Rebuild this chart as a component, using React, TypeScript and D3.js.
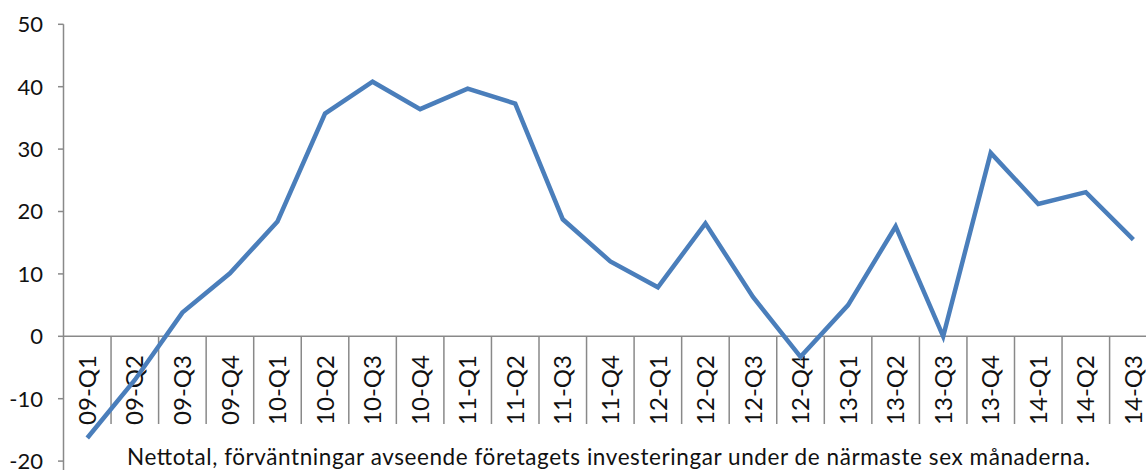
import React from 'react'
import * as d3 from 'd3'

const quarters = [
  '09-Q1', '09-Q2', '09-Q3', '09-Q4',
  '10-Q1', '10-Q2', '10-Q3', '10-Q4',
  '11-Q1', '11-Q2', '11-Q3', '11-Q4',
  '12-Q1', '12-Q2', '12-Q3', '12-Q4',
  '13-Q1', '13-Q2', '13-Q3', '13-Q4',
  '14-Q1', '14-Q2', '14-Q3',
]
const nettotal = [
  -16.3, -7, 3.8, 10.1,
  18.4, 35.7, 40.8, 36.4,
  39.7, 37.3, 18.75, 12.0,
  7.85, 18.1, 6.3, -3.3,
  5.0, 17.6, 0, 29.4,
  21.2, 23.1, 15.5,
]
const yTicks = [-20, -10, 0, 10, 20, 30, 40, 50]
const title = 'Nettotal, förväntningar avseende företagets investeringar under de närmaste sex månaderna.'

const W = 1146
const H = 470
const FONT = 'Lato, "Open Sans", sans-serif'
const AXIS = '#898989'

const App = () => {
  const x = d3.scaleBand().domain(quarters).range([63.5, 63.5 + 23 * 47.55]).padding(0)
  const y = d3.scaleLinear().domain([-20, 50]).range([461.1, 24.3])
  const cx = (q: string) => (x(q) || 0) + x.bandwidth() / 2

  const line = d3
    .line<number>()
    .x((_, i) => cx(quarters[i]))
    .y((d) => y(d))

  const y0 = y(0)

  return (
    <svg width={W} height={H} style={{ position: 'absolute', left: 0, top: 0 }} fontFamily={FONT}>
      <rect width={W} height={H} fill='#fff' />
      {/* y axis */}
      <line x1={63.5} x2={63.5} y1={y(50)} y2={H} stroke={AXIS} strokeWidth={1.5} />
      {yTicks.map((t) => (
        <g key={t}>
          <line x1={58} x2={63.5} y1={y(t)} y2={y(t)} stroke={AXIS} strokeWidth={1.5} />
          <text x={43} y={y(t)} dy='0.36em' textAnchor='end' fontSize={22} fill='#111'>
            {t}
          </text>
        </g>
      ))}
      {/* category axis along zero */}
      <line x1={63.5} x2={W} y1={y0} y2={y0} stroke={AXIS} strokeWidth={1.5} />
      {quarters.map((q) => (
        <line
          key={`b-${q}`}
          x1={(x(q) || 0) + x.bandwidth()}
          x2={(x(q) || 0) + x.bandwidth()}
          y1={y0}
          y2={424}
          stroke={AXIS}
          strokeWidth={1.5}
        />
      ))}
      {quarters.map((q) => (
        <text
          key={`l-${q}`}
          transform={`translate(${cx(q)}, 355) rotate(-90)`}
          dy='0.36em'
          textAnchor='end'
          fontSize={24}
          fill='#111'
        >
          {q}
        </text>
      ))}
      <path
        d={line(nettotal) || ''}
        fill='none'
        stroke='#4a7ebb'
        strokeWidth={4.5}
        strokeLinejoin='miter'
      />
      <text
        x={127}
        y={465}
        fontSize={22.5}
        fill='#111'
        textLength={963}
        lengthAdjust='spacing'
      >
        {title}
      </text>
    </svg>
  )
}

export default App
